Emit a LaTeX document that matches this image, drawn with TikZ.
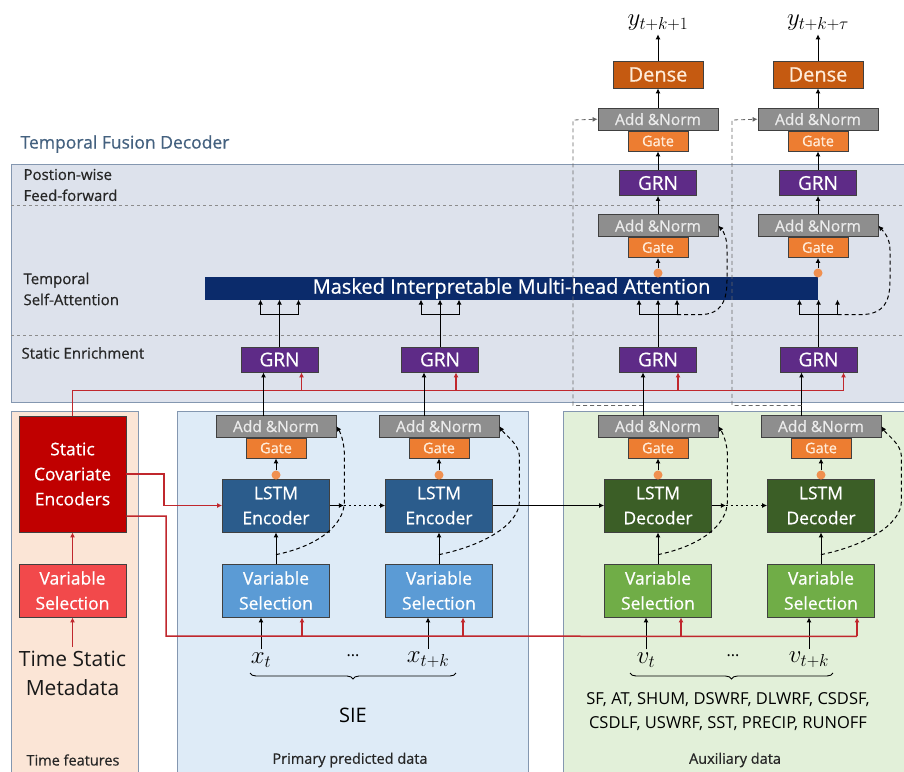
\documentclass[tikz,border=0pt]{standalone}
\usepackage{fontspec}
\setmainfont{Open Sans}
\newfontfamily\semib{Open Sans}[FakeBold=0.6]
\usetikzlibrary{arrows.meta,decorations.pathreplacing,calc}

\definecolor{tfdfill}{HTML}{DDE2EC}
\definecolor{tfdline}{HTML}{8497B0}
\definecolor{tfdtitle}{HTML}{44617F}
\definecolor{mhacol}{HTML}{0B2B6B}
\definecolor{grncol}{HTML}{5E2B87}
\definecolor{addcol}{HTML}{8E8E8E}
\definecolor{gatecol}{HTML}{ED7D31}
\definecolor{densecol}{HTML}{C55A11}
\definecolor{enccol}{HTML}{2B5C8C}
\definecolor{vsbcol}{HTML}{5B9BD5}
\definecolor{deccol}{HTML}{3B5E26}
\definecolor{vsgcol}{HTML}{70AD47}
\definecolor{scecol}{HTML}{C00000}
\definecolor{vsrcol}{HTML}{F2494B}
\definecolor{redln}{HTML}{C0272D}
\definecolor{tfpanel}{HTML}{FBE5D6}
\definecolor{ppdpanel}{HTML}{DEEBF7}
\definecolor{auxpanel}{HTML}{E2F0D9}

\newcommand{\fsz}[2]{\fontsize{#1}{#2}\selectfont}

\begin{document}
\begin{tikzpicture}[x=1pt,y=-1pt,
    box/.style={draw=black!75,line width=0.8pt,inner sep=0pt,align=center,text=white},
    grn/.style={box,fill=grncol,minimum width=77pt,minimum height=25pt,font=\semib\fsz{19}{22}},
    addnorm/.style={box,fill=addcol,text=black!8,minimum width=120pt,minimum height=22pt,font=\semib\fsz{15.5}{18}},
    gate/.style={box,fill=gatecol,text=orange!15,minimum width=60pt,minimum height=20pt,font=\semib\fsz{14.5}{17}},
    densebox/.style={box,fill=densecol,text=orange!15,minimum width=90pt,minimum height=27pt,font=\semib\fsz{20}{22}},
    lstm/.style={box,minimum width=107pt,minimum height=53pt,font=\semib\fsz{17.5}{25}},
    varsel/.style={box,minimum width=107pt,minimum height=53pt,font=\semib\fsz{17.5}{25}},
    gdot/.style={circle,fill=gatecol!85!white,inner sep=0pt,minimum size=9pt},
    blk/.style={line width=1pt},
    arr/.style={blk,-{Latex[length=5pt,width=5pt]}},
    redline/.style={draw=redln,line width=1.5pt},
    redarr/.style={redline,-{Latex[length=5pt,width=5pt]}},
    resid/.style={dash pattern=on 4pt off 3pt,line width=1pt,-{Latex[length=5pt,width=5pt]}},
    skipln/.style={dash pattern=on 4pt off 3pt,draw=black!60,line width=0.8pt,-{Latex[length=5pt,width=5pt]}},
    dotpat/.style={dash pattern=on 2pt off 3pt},
    rowlab/.style={anchor=west,align=left,font=\semib\fsz{15}{21},text=black!85},
    panlab/.style={font=\semib\fsz{14.5}{18},text=black!85},
  ]
  \useasboundingbox (0,0) rectangle (904,771);

  % decoder panel
  \node[anchor=west,text=tfdtitle,font=\semib\fsz{17.5}{20}] (tfd) at (17,144) {Temporal Fusion Decoder};
  \draw[fill=tfdfill,draw=tfdline,line width=0.8pt] (11,164) rectangle (910,402);
  \draw[dashed,draw=black!45] (11,205) -- (904,205);
  \draw[dashed,draw=black!45] (11,335) -- (904,335);
  \node[rowlab] (pwff) at (20,185) {Postion-wise\\Feed-forward};
  \node[rowlab] (tsa) at (20,289) {Temporal\\Self-Attention};
  \node[rowlab] (senr) at (18,353) {Static Enrichment};

  % input panels
  \draw[fill=tfpanel,draw=tfdline,line width=0.8pt] (11,411) rectangle (138,780);
  \draw[fill=ppdpanel,draw=tfdline,line width=0.8pt] (177,411) rectangle (528,780);
  \draw[fill=auxpanel,draw=tfdline,line width=0.8pt] (563,411) rectangle (910,780);
  \node[panlab] (tflab) at (73,760) {Time features};
  \node[panlab] (ppdlab) at (350,760) {Primary predicted data};
  \node[panlab] (auxlab) at (735,760) {Auxiliary data};

  \node[box,fill=scecol,minimum width=107pt,minimum height=116pt,font=\semib\fsz{17.5}{25}] (sce) at (72.5,474) {Static\\Covariate\\Encoders};
  \node[varsel,fill=vsrcol] (vss) at (72.5,590.5) {Variable\\Selection};
  \node[font=\fsz{21}{29},text=black!90,align=center] (tsm) at (72.5,673) {Time Static\\Metadata};
  \draw[redarr] (vss) -- (sce);
  \draw[redarr] (tsm) -- (vss);

  \foreach \i/\cx/\lc/\vc/\nm in {1/276/enccol/vsbcol/Encoder,2/439/enccol/vsbcol/Encoder,
      3/658/deccol/vsgcol/Decoder,4/821/deccol/vsgcol/Decoder}{
    \node[varsel,fill=\vc] (vs\i) at (\cx,590.5) {Variable\\Selection};
    \node[lstm,fill=\lc] (lstm\i) at (\cx,505.5) {LSTM\\\nm};
    \node[gate] (gb\i) at (\cx,448) {Gate};
    \node[addnorm,anchor=south] (ab\i) at (gb\i.north) {Add \&Norm};
    \node[gdot] (db\i) at (\cx,475) {};
    \draw[arr] (vs\i) -- (lstm\i);
    \draw[arr] (db\i) -- (gb\i);
  }
  \foreach \i/\ox in {1/8,2/20,3/9,4/20}
    \draw[resid] ([yshift=9pt]vs\i.north) .. controls +(40,-8) and +(0,25) .. ($(ab\i.east)+(\ox,75)$)
      -- ($(ab\i.east)+(\ox,30)$) .. controls +(0,-12) and +(5,8) .. (ab\i.east);

  \draw[arr] (lstm1.east) -- ++(14,0) coordinate (l1a);
  \draw[arr,dotpat] (l1a) -- (lstm2.west);
  \draw[arr] (lstm2) -- (lstm3);
  \draw[arr] (lstm3.east) -- ++(14,0) coordinate (l3a);
  \draw[arr,dotpat] (l3a) -- (lstm4.west);

  % inputs
  \node[font=\fsz{25}{27}] (xt) at (261,660) {$x_t$};
  \node[font=\fsz{16}{18}] (xdots) at (353,656) {...};
  \node[font=\fsz{25}{27}] (xtk) at (428,660) {$x_{t+k}$};
  \node[font=\fsz{25}{27}] (vt) at (646,660) {$v_t$};
  \node[font=\fsz{16}{18}] (vdots) at (733,656) {...};
  \node[font=\fsz{25}{27}] (vtk) at (809,660) {$v_{t+k}$};
  \draw[arr] (xt) -- (xt |- vs1.south);
  \draw[arr] (xtk) -- (xtk |- vs2.south);
  \draw[arr] (vt) -- (vt |- vs3.south);
  \draw[arr] (vtk) -- (vtk |- vs4.south);
  \draw[decorate,decoration={brace,mirror,amplitude=6pt},line width=0.9pt] (250,673) -- (456,673);
  \draw[decorate,decoration={brace,mirror,amplitude=6pt},line width=0.9pt] (630,673) -- (833,673);
  \node[font=\fsz{20}{22}] (sie) at (353,715) {SIE};
  \node[font=\fsz{16.5}{24},align=center] (auxvars) at (728,712) {SF, AT, SHUM, DSWRF, DLWRF, CSDSF,\\CSDLF, USWRF, SST, PRECIP, RUNOFF};

  % static covariates
  \draw[redarr] (sce.east) -- (164,474) |- (lstm1.west);
  \draw[redline] ([yshift=-42pt]sce.east) -| (166,636) -- ($(vs4.south)+(36,19)$);
  \foreach \i/\dx in {1/26,2/24,3/23,4/36}
    \draw[redarr] ([xshift=\dx pt]vs\i.south) ++(0,19) -- ++(0,-19);

  % static enrichment and attention
  \foreach \i/\cx in {1/279.5,2/440,3/658,4/818.5}
    \node[grn] (g\i) at (\cx,359.5) {GRN};
  \node[fill=mhacol,text=white,minimum width=613pt,minimum height=23pt,inner sep=0pt,font=\semib\fsz{20}{22}] (mha) at (511.5,288.5) {Masked Interpretable Multi-head Attention};
  \draw[redline] (sce.north) |- ($(g4.south)+(25,18)$);
  \foreach \i/\dx in {1/22,2/16,3/20,4/25}
    \draw[redarr] ([xshift=\dx pt]g\i.south) ++(0,18) -- ++(0,-18);
  \foreach \i/\dx in {1/-16,2/-16,3/-15,4/-17}
    \draw[arr] ([xshift=\dx pt]g\i.south) ++(0,44) -- ++(0,-44);
  \foreach \i in {1,...,4}{
    \draw[blk] (g\i.north) -- ++(0,-32) coordinate (m\i);
    \draw[blk] ([xshift=-19pt]m\i) -- ([xshift=19pt]m\i);
    \foreach \d in {-19,0,19}
      \draw[arr] ([xshift=\d pt]m\i) -- ++(0,-15);
  }

  % decoder outputs
  \foreach \i/\cx/\lab in {3/658/{y_{t+k+1}},4/818/{y_{t+k+\tau}}}{
    \node[gate] (ga\i) at (\cx,247.5) {Gate};
    \node[addnorm,anchor=south] (aa\i) at (ga\i.north) {Add \&Norm};
    \node[grn] (gu\i) at (\cx,183) {GRN};
    \node[gate] (go\i) at (\cx,141) {Gate};
    \node[addnorm,anchor=south] (ao\i) at (go\i.north) {Add \&Norm};
    \node[densebox] (dn\i) at (\cx,74.5) {Dense};
    \node[font=\fsz{25}{27}] (y\i) at (\cx,23) {$\lab$};
    \node[gdot] (da\i) at (\cx,273) {};
    \draw[arr] (da\i) -- (ga\i);
    \draw[arr] (aa\i) -- (gu\i);
    \draw[arr] (gu\i) -- (go\i);
    \draw[arr] (ao\i) -- (dn\i);
    \draw[arr] (dn\i) -- (y\i);
  }
  \draw[resid] ([xshift=19pt]m3) -- ++(22,0) .. controls (722,315) and (727,300) .. (727,280)
    -- (727,250) .. controls (727,238) and (724,232) .. (aa3.east);
  \draw[resid] ([xshift=19pt]m4) -- ++(22,0) .. controls (885,315) and (890,300) .. (890,280)
    -- (890,250) .. controls (890,238) and (884,232) .. (aa4.east);
  \draw[skipln] ([xshift=-15pt]g3.south) ++(0,33) -| (573,120) -- (ao3.west);
  \draw[skipln] ([xshift=-17pt]g4.south) ++(0,33) -| (732,120) -- (ao4.west);
\end{tikzpicture}
\end{document}
